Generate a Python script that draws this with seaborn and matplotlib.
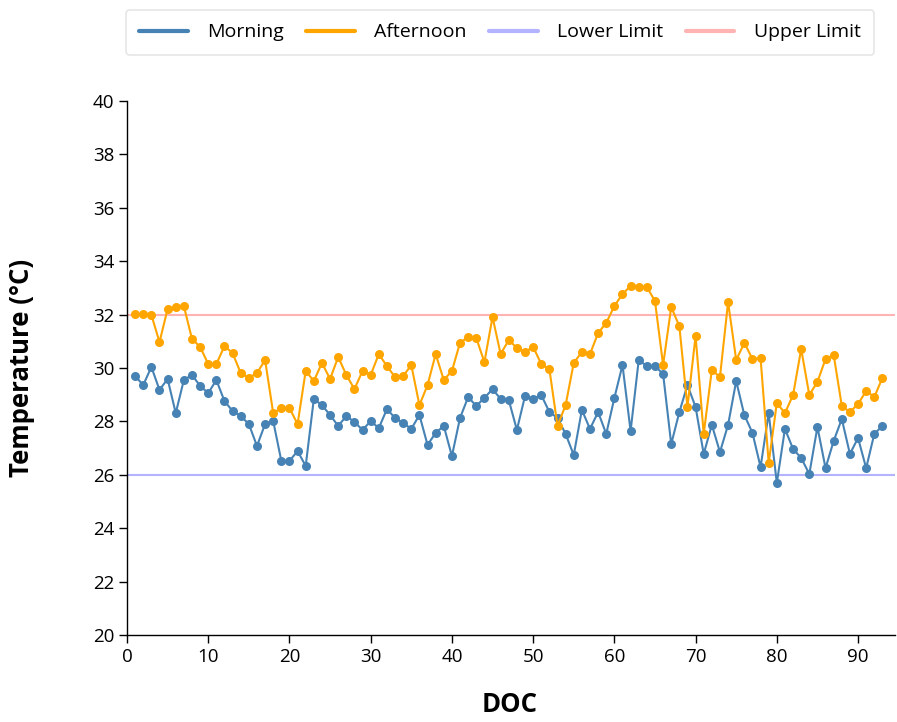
import matplotlib
matplotlib.use("Agg")
import matplotlib.pyplot as plt
from matplotlib.lines import Line2D
import seaborn as sns
import pandas as pd

# Daily water temperature readings by day of culture (DOC)
doc = list(range(1, 94))

morning = [
    29.70, 29.36, 30.04, 29.18, 29.59, 28.31, 29.55, 29.74, 29.33, 29.06,
    29.55, 28.76, 28.39, 28.20, 27.90, 27.08, 27.90, 28.01, 26.52, 26.52,
    26.89, 26.33, 28.84, 28.61, 28.24, 27.83, 28.20, 27.98, 27.68, 28.01,
    27.75, 28.46, 28.13, 27.94, 27.72, 28.24, 27.12, 27.57, 27.83, 26.70,
    28.13, 28.91, 28.58, 28.88, 29.21, 28.84, 28.80, 27.68, 28.95, 28.84,
    28.99, 28.35, 28.13, 27.53, 26.74, 28.43, 27.72, 28.35, 27.53, 28.88,
    30.11, 27.64, 30.30, 30.07, 30.07, 29.78, 27.15, 28.35, 29.36, 28.54,
    26.78, 27.87, 26.85, 27.87, 29.51, 28.24, 27.57, 26.29, 28.31, 25.69,
    27.72, 26.97, 26.63, 26.03, 27.79, 26.25, 27.27, 28.09, 26.78, 27.38,
    26.25, 27.53, 27.83,
]

afternoon = [
    32.02, 32.02, 31.99, 30.97, 32.21, 32.28, 32.32, 31.09, 30.79, 30.15,
    30.15, 30.82, 30.56, 29.81, 29.63, 29.81, 30.30, 28.31, 28.50, 28.50,
    27.90, 29.89, 29.51, 30.19, 29.59, 30.41, 29.74, 29.21, 29.89, 29.74,
    30.52, 30.07, 29.66, 29.70, 30.11, 28.61, 29.36, 30.52, 29.55, 29.89,
    30.94, 31.16, 31.12, 30.22, 31.91, 30.52, 31.05, 30.75, 30.60, 30.79,
    30.15, 29.96, 27.83, 28.61, 30.19, 30.60, 30.52, 31.31, 31.69, 32.32,
    32.77, 33.07, 33.03, 33.03, 32.51, 30.11, 32.28, 31.57, 28.54, 31.20,
    27.53, 29.93, 29.66, 32.47, 30.30, 30.94, 30.34, 30.37, 26.44, 28.69,
    28.31, 28.99, 30.71, 28.99, 29.48, 30.34, 30.49, 28.58, 28.35, 28.65,
    29.14, 28.91, 29.63,
]

lower_limit = 26
upper_limit = 32

x_ticks = list(range(0, 91, 10))
y_ticks = list(range(20, 41, 2))

df = pd.DataFrame({"DOC": doc, "Morning": morning, "Afternoon": afternoon})

sns.set_theme(style="white")
plt.rcParams["font.family"] = ["Open Sans", "DejaVu Sans"]
plt.rcParams["text.color"] = "black"

W, H = 897, 722
fig = plt.figure(figsize=(W / 100, H / 100), dpi=100)
ax = fig.add_axes([127 / W, 1 - 635 / H, (895 - 127) / W, (635 - 101) / H])

c_morning = "#4682b4"
c_afternoon = "#ffa500"
c_lower = "#b3b3ff"
c_upper = "#ffb3b3"

ax.axhline(lower_limit, color=c_lower, lw=1.5, zorder=1)
ax.axhline(upper_limit, color=c_upper, lw=1.5, zorder=1)

sns.lineplot(data=df, x="DOC", y="Morning", ax=ax, color=c_morning, lw=1.5,
             marker="o", markersize=6.5, markeredgewidth=0, zorder=3)
sns.lineplot(data=df, x="DOC", y="Afternoon", ax=ax, color=c_afternoon, lw=1.5,
             marker="o", markersize=6.5, markeredgewidth=0, zorder=3)

ax.set_xlim(0, 94.55)
ax.set_ylim(20, 40)
ax.set_xticks(x_ticks)
ax.set_yticks(y_ticks)
ax.tick_params(axis="both", which="major", direction="out", length=6, width=1,
               color="black", labelsize=13.5, labelcolor="black", pad=3,
               bottom=True, left=True)
for side in ("top", "right"):
    ax.spines[side].set_visible(False)
for side in ("left", "bottom"):
    ax.spines[side].set_color("black")
    ax.spines[side].set_linewidth(1)

ax.set_xlabel("")
ax.set_ylabel("")
fig.text(510 / W, 1 - 704 / H, "DOC", fontsize=18.5, fontweight="bold",
         ha="center", va="center", color="black")
fig.text(22 / W, 1 - 368 / H, "Temperature (°C)", fontsize=18.5,
         fontweight="bold", rotation=90, ha="center", va="center",
         color="black")

handles = [
    Line2D([], [], color=c_morning, lw=3),
    Line2D([], [], color=c_afternoon, lw=3),
    Line2D([], [], color=c_lower, lw=3),
    Line2D([], [], color=c_upper, lw=3),
]
labels = ["Morning", "Afternoon", "Lower Limit", "Upper Limit"]
leg = fig.legend(handles, labels, loc="upper center", ncol=4,
                 bbox_to_anchor=(500 / W, 1.0), fontsize=14,
                 frameon=True, fancybox=True, handlelength=2.5,
                 handletextpad=1.0, columnspacing=1.15, borderpad=0.7)
leg.get_frame().set_edgecolor("#e0e0e0")
leg.get_frame().set_linewidth(1.2)
for t in leg.get_texts():
    t.set_color("black")

fig.savefig("out.png", dpi=100)
